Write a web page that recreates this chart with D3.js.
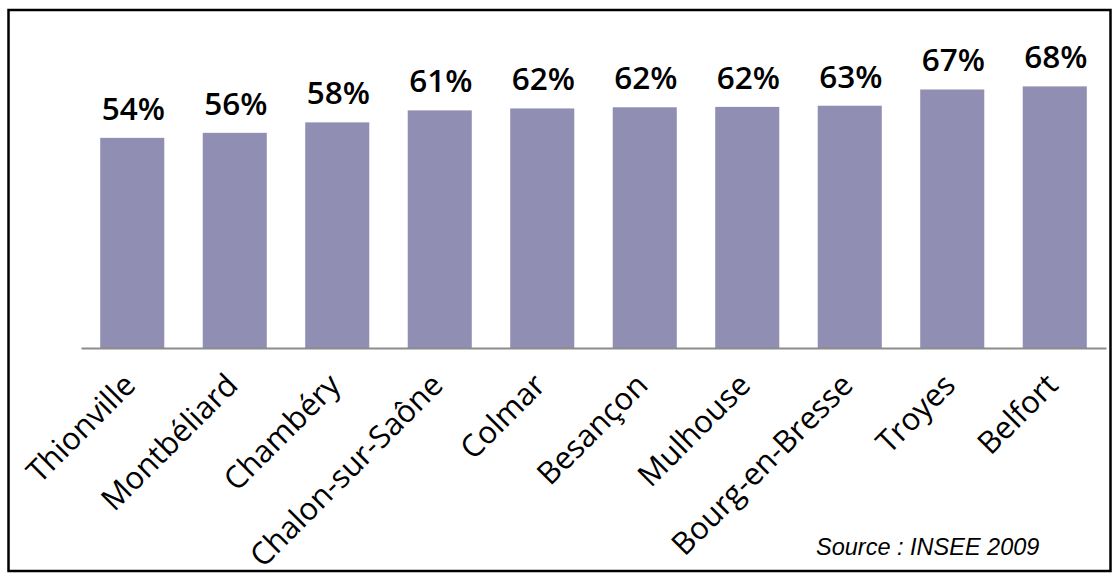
<!DOCTYPE html>
<html>
<head>
<meta charset="utf-8">
<script src="https://cdn.jsdelivr.net/npm/d3@7"></script>
<style>
  body { margin: 0; background: #fff; }
</style>
</head>
<body>
<div id="chart"></div>
<script>
// data (percent)
const cities = ["Thionville", "Montbéliard", "Chambéry", "Chalon-sur-Saône", "Colmar",
                "Besançon", "Mulhouse", "Bourg-en-Bresse", "Troyes", "Belfort"];
const shares = [54.3, 55.6, 58.3, 61.4, 61.9, 62.2, 62.3, 62.6, 66.8, 67.6];
const sourceNote = "Source : INSEE 2009";

const width = 1120, height = 580;

let svg = d3.select("#chart")
    .append("svg")
    .attr("width", width)
    .attr("height", height);

// frame
svg.append("rect")
    .attr("x", 8.5).attr("y", 10)
    .attr("width", 1102).attr("height", 561)
    .attr("fill", "none")
    .attr("stroke", "#000")
    .attr("stroke-width", 2.5);

let x = d3.scaleBand()
    .domain(cities)
    .range([81, 1106])
    .paddingInner(0.375)
    .paddingOuter(0.1875);

let y = d3.scaleLinear()
    .domain([0, 90])
    .range([348, 348 - 90 * 3.87]);

let data = cities.map((c, i) => ({ city: c, value: shares[i] }));

// bars
svg.selectAll("rect.bar")
    .data(data)
    .enter()
    .append("rect")
    .attr("class", "bar")
    .attr("x", d => x(d.city))
    .attr("y", d => y(d.value))
    .attr("width", x.bandwidth())
    .attr("height", d => y(0) - y(d.value))
    .attr("fill", "#908fb3");

// value labels
svg.selectAll("text.val")
    .data(data)
    .enter()
    .append("text")
    .attr("class", "val")
    .attr("x", d => x(d.city) + x.bandwidth() / 2 + 1)
    .attr("y", d => y(d.value) - 18)
    .attr("text-anchor", "middle")
    .style("font-family", "'Open Sans', sans-serif")
    .style("font-weight", 600)
    .style("font-size", "31.5px")
    .style("fill", "#000")
    .text(d => Math.round(d.value) + "%");

// category axis
let axis = svg.append("g")
    .attr("transform", "translate(0," + y(0) + ")")
    .call(d3.axisBottom(x).tickSize(0).tickSizeOuter(0));

axis.select(".domain")
    .attr("stroke", "#8c8c8c")
    .attr("stroke-width", 2);

// labels turned 45 degrees, ending just under each bar
axis.selectAll(".tick text")
    .attr("x", 0)
    .attr("y", 0)
    .attr("dy", 0)
    .attr("transform", "translate(5,39) rotate(-45)")
    .attr("text-anchor", "end")
    .style("font-family", "'Open Sans', sans-serif")
    .style("font-size", "31px")
    .style("fill", "#000");

// source
svg.append("text")
    .attr("x", 816)
    .attr("y", 555)
    .style("font-family", "'Liberation Sans', Arial, sans-serif")
    .style("font-style", "italic")
    .style("font-size", "23.5px")
    .style("fill", "#000")
    .text(sourceNote);
</script>
</body>
</html>
